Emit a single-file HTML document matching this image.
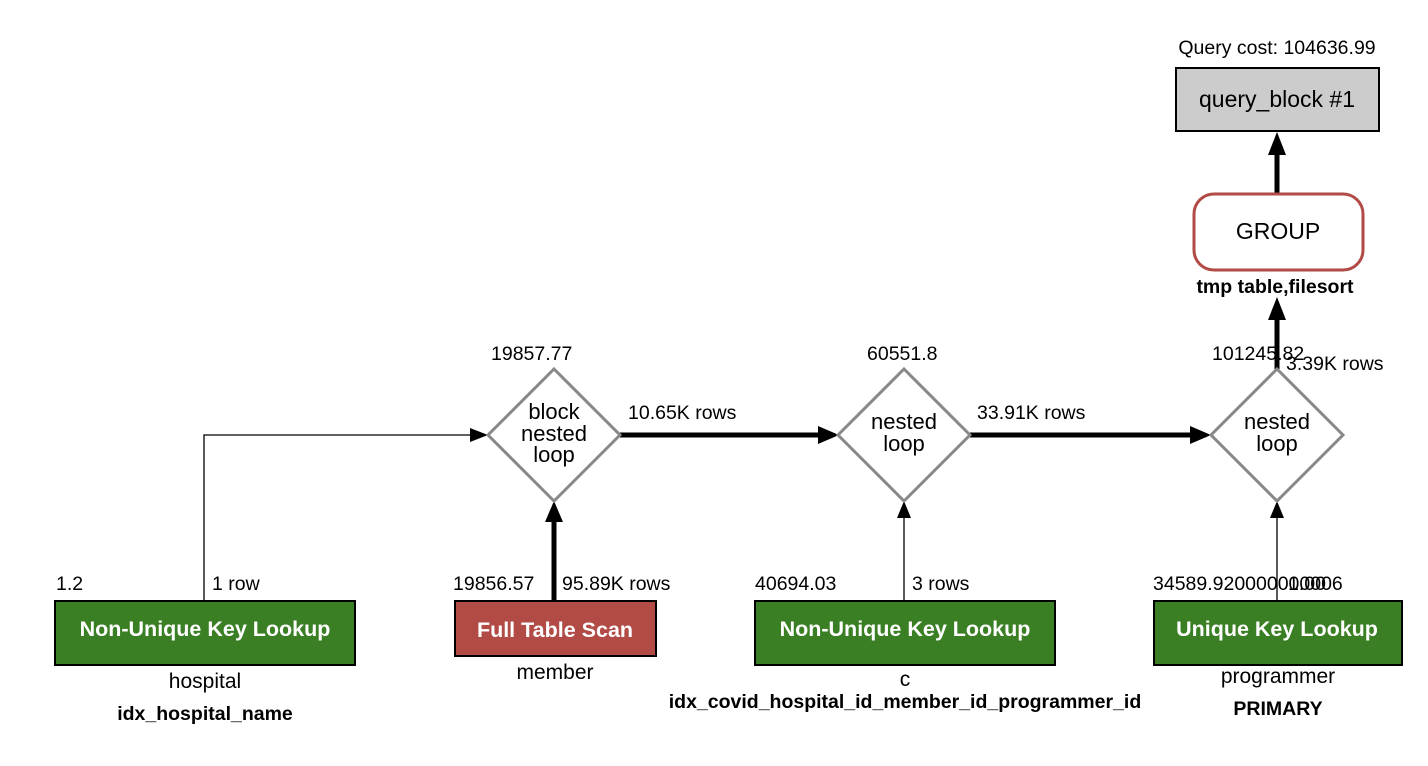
<!DOCTYPE html>
<html><head><style>body{margin:0;background:#fff}svg{display:block}text{font-family:"Liberation Sans",Arial,sans-serif;fill:#000}</style></head>
<body>
<svg width="1428" height="766" viewBox="0 0 1428 766">
<!-- edges -->
<polyline points="204,600 204,435 470,435" fill="none" stroke="#000" stroke-width="1.3"/>
<path d="M470,428 L488,435 L470,442z"/>
<line x1="554" y1="600" x2="554" y2="522" stroke="#000" stroke-width="5"/>
<path d="M545,522 L554,501 L563,522z"/>
<line x1="620" y1="435" x2="818" y2="435" stroke="#000" stroke-width="5"/>
<path d="M818,426 L839,435 L818,444z"/>
<line x1="970" y1="435" x2="1190" y2="435" stroke="#000" stroke-width="5"/>
<path d="M1190,426 L1211,435 L1190,444z"/>
<line x1="904" y1="600" x2="904" y2="517" stroke="#000" stroke-width="1.3"/>
<path d="M897,518 L904,501 L911,518z"/>
<line x1="1277" y1="600" x2="1277" y2="517" stroke="#000" stroke-width="1.3"/>
<path d="M1270,518 L1277,501 L1284,518z"/>
<line x1="1277" y1="369" x2="1277" y2="318" stroke="#000" stroke-width="5"/>
<path d="M1268,320 L1277,297 L1286,320z"/>
<line x1="1277" y1="193" x2="1277" y2="153" stroke="#000" stroke-width="5"/>
<path d="M1268,155 L1277,132 L1286,155z"/>
<!-- diamonds -->
<polygon points="554,369 620,435 554,501 488,435" fill="#fff" stroke="#888" stroke-width="3"/>
<polygon points="904,369 970,435 904,501 838,435" fill="#fff" stroke="#888" stroke-width="3"/>
<polygon points="1277,369 1343,435 1277,501 1211,435" fill="#fff" stroke="#888" stroke-width="3"/>
<g font-size="22" text-anchor="middle">
<text x="554" y="419">block</text><text x="554" y="441">nested</text><text x="554" y="462">loop</text>
<text x="904" y="429">nested</text><text x="904" y="451">loop</text>
<text x="1277" y="429">nested</text><text x="1277" y="451">loop</text>
</g>
<!-- top -->
<text x="1277" y="54" font-size="19.5" text-anchor="middle">Query cost: 104636.99</text>
<rect x="1176" y="68" width="203" height="63" fill="#ccc" stroke="#000" stroke-width="2"/>
<text x="1277" y="107" font-size="23" text-anchor="middle">query_block #1</text>
<rect x="1194" y="194" width="169" height="76" rx="20" fill="#fff" stroke="#b24a45" stroke-width="3"/>
<text x="1278" y="239" font-size="23" text-anchor="middle">GROUP</text>
<text x="1275" y="293" font-size="19.5" font-weight="bold" text-anchor="middle">tmp table,filesort</text>
<!-- labels -->
<g font-size="19.5">
<text x="491" y="360">19857.77</text>
<text x="628" y="419">10.65K rows</text>
<text x="867" y="360">60551.8</text>
<text x="977" y="419">33.91K rows</text>
<text x="1212" y="360">101245.82</text>
<text x="1286" y="370">3.39K rows</text>
<text x="56" y="590">1.2</text>
<text x="212" y="590">1 row</text>
<text x="453" y="590">19856.57</text>
<text x="562" y="590">95.89K rows</text>
<text x="755" y="590">40694.03</text>
<text x="912" y="590">3 rows</text>
<text x="1153" y="590">34589.920000000006</text>
<text x="1288" y="590">1.00</text>
</g>
<!-- boxes -->
<rect x="55" y="601" width="300" height="64" fill="#3a7f24" stroke="#000" stroke-width="2"/>
<text x="205" y="636" font-size="21.5" font-weight="bold" text-anchor="middle" style="fill:#fff">Non-Unique Key Lookup</text>
<rect x="455" y="601" width="201" height="55" fill="#b24a45" stroke="#000" stroke-width="2"/>
<text x="555" y="637" font-size="21.5" font-weight="bold" text-anchor="middle" style="fill:#fff">Full Table Scan</text>
<rect x="755" y="601" width="300" height="64" fill="#3a7f24" stroke="#000" stroke-width="2"/>
<text x="905" y="636" font-size="21.5" font-weight="bold" text-anchor="middle" style="fill:#fff">Non-Unique Key Lookup</text>
<rect x="1154" y="601" width="248" height="64" fill="#3a7f24" stroke="#000" stroke-width="2"/>
<text x="1277" y="636" font-size="21.5" font-weight="bold" text-anchor="middle" style="fill:#fff">Unique Key Lookup</text>
<g font-size="21" text-anchor="middle">
<text x="205" y="688">hospital</text>
<text x="555" y="679">member</text>
<text x="905" y="686">c</text>
<text x="1278" y="683">programmer</text>
</g>
<g font-size="19.5" font-weight="bold" text-anchor="middle">
<text x="205" y="720">idx_hospital_name</text>
<text x="905" y="708">idx_covid_hospital_id_member_id_programmer_id</text>
<text x="1278" y="715">PRIMARY</text>
</g>
</svg>
</body></html>
